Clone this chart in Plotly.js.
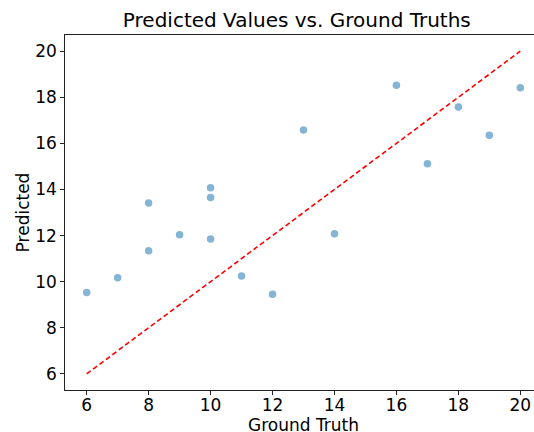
<!DOCTYPE html>
<html>
<head>
<meta charset="utf-8">
<script src="https://cdn.plot.ly/plotly-3.0.1.min.js"></script>
<style>html,body{margin:0;padding:0;overflow:hidden;background:#fff;}</style>
</head>
<body>
<div id="chart"></div>
<script>
const groundTruth = [6, 7, 8, 8, 9, 10, 10, 10, 11, 12, 13, 14, 16, 17, 18, 19, 20];
const predicted = [9.53, 10.17, 13.41, 11.34, 12.03, 14.07, 13.65, 11.85, 10.24, 9.45, 16.58, 12.08, 18.52, 15.11, 17.58, 16.35, 18.41];
const idealLine = [6, 20];
const xTicks = [6, 8, 10, 12, 14, 16, 18, 20];
const yTicks = [6, 8, 10, 12, 14, 16, 18, 20];

const font = "DejaVu Sans, sans-serif";
const traces = [
  {
    x: groundTruth, y: predicted, type: 'scatter', mode: 'markers',
    marker: {size: 7.5, color: 'rgba(31,119,180,0.55)', line: {width: 0}},
    hoverinfo: 'skip'
  },
  {
    x: idealLine, y: idealLine, type: 'scatter', mode: 'lines',
    line: {color: '#ff0000', width: 1.6, dash: '5px,3px'},
    hoverinfo: 'skip'
  }
];
const layout = {
  width: 545, height: 436,
  margin: {l: 65, r: 3, t: 35, b: 46},
  paper_bgcolor: '#fff', plot_bgcolor: '#fff',
  showlegend: false,
  font: {family: font, color: '#000', size: 17},
  title: {text: 'Predicted Values vs. Ground Truths', font: {family: font, size: 20, color: '#000'},
          xref: 'paper', x: 0.486, xanchor: 'center', yref: 'paper', y: 1, yanchor: 'bottom', pad: {b: 8}},
  xaxis: {
    range: [5.3, 20.7], tickvals: xTicks, ticktext: xTicks.map(String),
    showgrid: false, zeroline: false, showline: true, linecolor: '#222', linewidth: 1.2, mirror: true,
    ticks: 'outside', ticklen: 3.5, tickcolor: '#222', tickwidth: 1, ticklabelstandoff: -4,
    tickfont: {family: font, size: 17, color: '#000'},
    title: {text: 'Ground Truth', font: {family: font, size: 17, color: '#000'}, standoff: 3}
  },
  yaxis: {
    range: [5.3, 20.7], tickvals: yTicks, ticktext: yTicks.map(String),
    showgrid: false, zeroline: false, showline: true, linecolor: '#222', linewidth: 1.2, mirror: true,
    ticks: 'outside', ticklen: 3.5, tickcolor: '#222', tickwidth: 1,
    tickfont: {family: font, size: 17, color: '#000'},
    title: {text: 'Predicted', font: {family: font, size: 17, color: '#000'}, standoff: 1}
  }
};
Plotly.newPlot('chart', traces, layout, {staticPlot: true, displayModeBar: false});
</script>
</body>
</html>
